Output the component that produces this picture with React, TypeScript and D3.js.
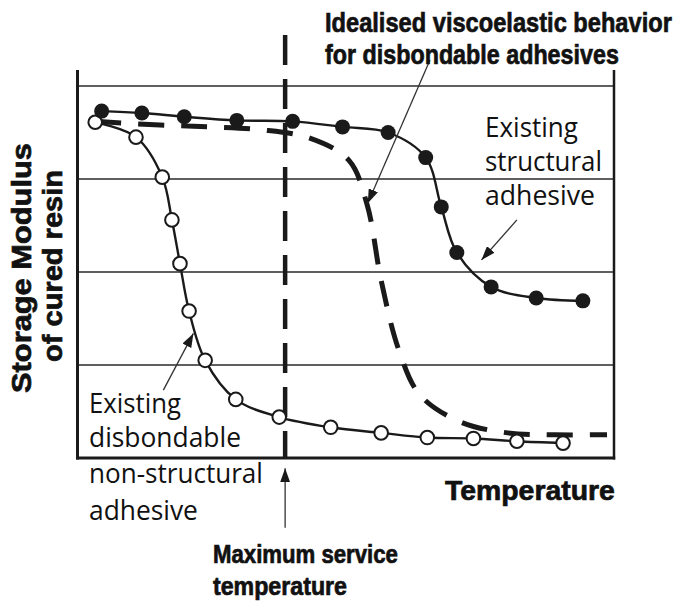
import React, { useRef, useEffect } from 'react';
import * as d3 from 'd3';

// temperature (arbitrary 0-100) vs storage modulus (arbitrary 0-4)
const structuralX = [4.5, 12.0, 19.9, 29.7, 40.1, 49.4, 57.9, 64.9, 67.8, 70.7, 77.1, 85.5, 94.2];
const structuralY = [3.73, 3.71, 3.67, 3.63, 3.62, 3.56, 3.50, 3.23, 2.70, 2.21, 1.84, 1.72, 1.69];

const disbondX = [3.3, 10.9, 15.8, 17.6, 19.1, 20.8, 23.8, 29.5, 37.6, 47.2, 56.6, 65.2, 73.8, 81.9, 90.5];
const disbondY = [3.61, 3.45, 3.02, 2.56, 2.09, 1.58, 1.05, 0.63, 0.44, 0.33, 0.27, 0.22, 0.21, 0.18, 0.16];

const idealX = [3.3, 15.4, 24.7, 34.0, 43.3, 50.6, 54.0, 56.6, 59.9, 63.8, 71.3, 80.2, 89.0, 98.7];
const idealY = [3.62, 3.58, 3.56, 3.53, 3.44, 3.20, 2.72, 1.91, 1.16, 0.68, 0.39, 0.27, 0.25, 0.25];

const gridLevels = [1, 2, 3, 4];
const maxServiceTemp = 38.7;

const titleLines = ['Idealised viscoelastic behavior', 'for disbondable adhesives'];
const yLabelLines = ['Storage Modulus', 'of cured resin'];
const xLabel = 'Temperature';
const structuralLabel = ['Existing', 'structural', 'adhesive'];
const disbondLabel = ['Existing', 'disbondable', 'non-structural', 'adhesive'];
const serviceLabel = ['Maximum service', 'temperature'];

// annotation arrows [x0, y0, x1, y1] in data units, arrowhead at the end
const arrows = [
    [65.7, 4.28, 54.1, 2.74],
    [81.9, 2.56, 75.3, 2.13],
    [16.0, 0.73, 21.6, 1.34],
    [maxServiceTemp, -0.75, maxServiceTemp, -0.11],
];

const W = 677;
const H = 607;

const App = () => {
    const svgRef = useRef(null);

    useEffect(() => {
        const svg = d3.select(svgRef.current);
        svg.selectAll('*').remove();

        const margin = { top: 86, right: 63, bottom: 149, left: 77.5 };
        const regular = '"Open Sans", "DejaVu Sans", sans-serif';
        const bold = '"Liberation Sans", Arial, sans-serif';
        const ink = '#1a1a1a';

        const x = d3.scaleLinear().domain([0, 100]).range([margin.left, W - margin.right]);
        const y = d3.scaleLinear().domain([0, 4]).range([H - margin.bottom, margin.top]);

        svg.append('rect').attr('width', W).attr('height', H).attr('fill', '#fff');

        const defs = svg.append('defs');
        defs.append('marker')
            .attr('id', 'head')
            .attr('viewBox', '0 0 14 10')
            .attr('refX', 14)
            .attr('refY', 5)
            .attr('markerWidth', 14)
            .attr('markerHeight', 10)
            .attr('markerUnits', 'userSpaceOnUse')
            .attr('orient', 'auto')
            .append('path')
            .attr('d', 'M0,0 L14,5 L0,10 Z')
            .attr('fill', ink);

        // grid
        svg.append('g')
            .selectAll('line')
            .data(gridLevels)
            .enter()
            .append('line')
            .attr('x1', x(0))
            .attr('x2', x(100))
            .attr('y1', d => y(d))
            .attr('y2', d => y(d))
            .attr('stroke', '#2a2a2a')
            .attr('stroke-width', 1.6);

        // frame: left / right uprights extend above the top grid line
        svg.append('line')
            .attr('x1', x(0)).attr('x2', x(0))
            .attr('y1', y(4) - 16).attr('y2', y(0) + 1.5)
            .attr('stroke', ink).attr('stroke-width', 3);
        svg.append('line')
            .attr('x1', x(100)).attr('x2', x(100))
            .attr('y1', y(4) - 16).attr('y2', y(0) + 1.5)
            .attr('stroke', ink).attr('stroke-width', 2.5);
        svg.append('line')
            .attr('x1', x(0) - 1.5).attr('x2', x(100) + 1.2)
            .attr('y1', y(0)).attr('y2', y(0))
            .attr('stroke', ink).attr('stroke-width', 3);

        // max service temperature
        svg.append('line')
            .attr('x1', x(maxServiceTemp)).attr('x2', x(maxServiceTemp))
            .attr('y1', 35).attr('y2', y(0))
            .attr('stroke', ink)
            .attr('stroke-width', 4.5)
            .attr('stroke-dasharray', '30 14');

        const toPts = (xs, ys) => xs.map((v, i) => ({ t: v, m: ys[i] }));
        const structural = toPts(structuralX, structuralY);
        const disbond = toPts(disbondX, disbondY);
        const ideal = toPts(idealX, idealY);

        const line = d3.line()
            .x(d => x(d.t))
            .y(d => y(d.m))
            .curve(d3.curveCatmullRom.alpha(0.5));

        svg.append('path')
            .datum(ideal)
            .attr('fill', 'none')
            .attr('stroke', ink)
            .attr('stroke-width', 5)
            .attr('stroke-dasharray', '26 17')
            .attr('d', line);

        svg.append('path')
            .datum(disbond)
            .attr('fill', 'none')
            .attr('stroke', ink)
            .attr('stroke-width', 2.4)
            .attr('d', line);

        svg.append('path')
            .datum(structural)
            .attr('fill', 'none')
            .attr('stroke', ink)
            .attr('stroke-width', 2.4)
            .attr('d', line);

        svg.append('g')
            .selectAll('circle')
            .data(disbond)
            .enter()
            .append('circle')
            .attr('cx', d => x(d.t))
            .attr('cy', d => y(d.m))
            .attr('r', 6.8)
            .attr('fill', '#fff')
            .attr('stroke', ink)
            .attr('stroke-width', 2);

        svg.append('g')
            .selectAll('circle')
            .data(structural)
            .enter()
            .append('circle')
            .attr('cx', d => x(d.t))
            .attr('cy', d => y(d.m))
            .attr('r', 7.5)
            .attr('fill', ink);

        // annotation arrows
        svg.append('g')
            .selectAll('line')
            .data(arrows)
            .enter()
            .append('line')
            .attr('x1', d => x(d[0]))
            .attr('y1', d => y(d[1]))
            .attr('x2', d => x(d[2]))
            .attr('y2', d => y(d[3]))
            .attr('stroke', '#333')
            .attr('stroke-width', 1.3)
            .attr('marker-end', 'url(#head)');

        // text squeezed horizontally to the width measured on the reference
        const fitText = (t, tx, ty, width, size, family, weight, rotate = 0, anchor = 'start') => {
            const g = svg.append('g');
            const txt = g.append('text')
                .attr('x', 0)
                .attr('y', 0)
                .attr('text-anchor', anchor)
                .attr('font-family', family)
                .attr('font-size', size)
                .attr('font-weight', weight)
                .attr('fill', '#111')
                .text(t);
            if (weight === 700) {
                txt.attr('stroke', '#111').attr('stroke-width', 0.7);
            }
            const natural = txt.node().getComputedTextLength() || width;
            const k = width / natural;
            g.attr('transform', `translate(${tx},${ty}) rotate(${rotate}) scale(${k},1)`);
        };

        const block = (lines, x0, baselines, widths, size, family, weight) => {
            lines.forEach((t, i) => fitText(t, x0, baselines[i], widths[i], size, family, weight));
        };

        block(titleLines, 325, [31.5, 63.5], [347, 294], 28, bold, 700);
        block(structuralLabel, 485, [136.5, 170.5, 205], [93, 117, 110], 27, regular, 400);
        block(disbondLabel, 89, [413, 447, 483, 520], [92, 152, 174, 109], 27, regular, 400);
        block(serviceLabel, 213, [563, 595], [185, 134], 26, bold, 700);
        block([xLabel], 445, [499.5], [170], 28, bold, 700);

        // rotated y label
        fitText(yLabelLines[0], 30.5, 268, 250, 28, bold, 700, -90, 'middle');
        fitText(yLabelLines[1], 62, 266, 192, 28, bold, 700, -90, 'middle');
    }, []);

    return (
        <svg
            ref={svgRef}
            width={W}
            height={H}
            style={{ position: 'absolute', left: 0, top: 0, display: 'block' }}
        ></svg>
    );
};

export default App;
